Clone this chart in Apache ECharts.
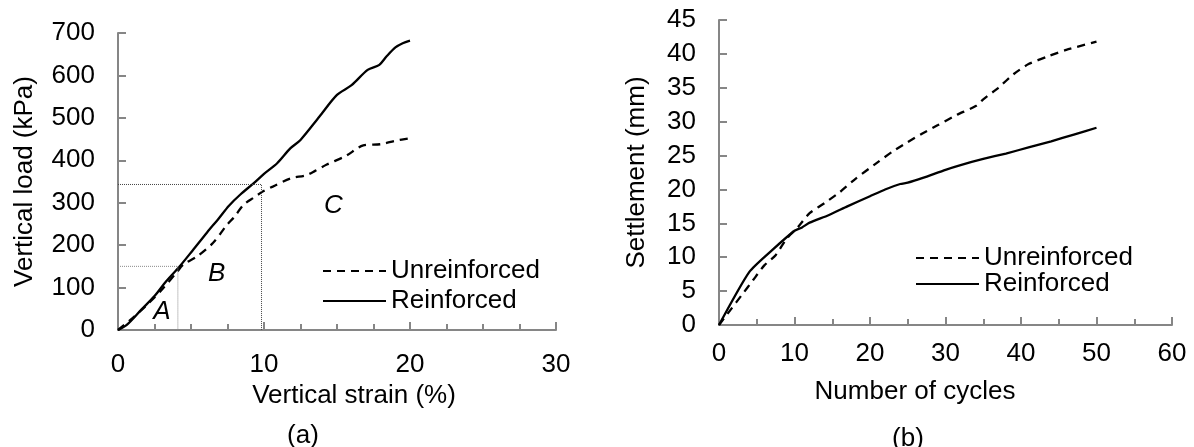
<!DOCTYPE html>
<html>
<head>
<meta charset="utf-8">
<script src="https://cdn.jsdelivr.net/npm/echarts@6/dist/echarts.min.js"></script>
<style>
  html, body { margin: 0; padding: 0; background: #fff; }
  #main { width: 1194px; height: 447px; }
</style>
</head>
<body>
<div id="main"></div>
<script>
// (a) load vs strain
var strainUnreinf = [[0,0],[1,28],[2,60],[3,95],[4,135],[4.5,155],[5.4,173],[6.5,205],[7.4,245],[8,268],[8.6,295],[9.3,312],[10,328],[10.6,338],[11.8,357],[12.9,365],[13.5,375],[14.3,390],[15.6,410],[16.8,435],[18,438],[19,446],[20,452]];
var strainReinf = [[0,0],[0.6,12],[1.6,48],[2.5,80],[3.3,115],[4.2,149],[5.1,187],[6.1,230],[6.9,263],[7.6,293],[8.4,320],[9.3,346],[10,368],[10.9,393],[11.8,428],[12.5,448],[13.8,503],[15,554],[16,577],[17.1,613],[17.9,625],[18.4,645],[19,666],[19.5,676],[20,682]];
// dotted guides and zone letters
var guideA = [[0,150],[4.1,150],[4.1,0]];
var guideB = [[0,343],[9.83,343],[9.83,0]];
var zoneLabels = [[3.0,42,'A'],[6.75,132,'B'],[14.75,293,'C']];

// (b) settlement vs cycles
var cycUnreinf = [[0,0],[1.5,2.2],[3,4.4],[4.5,6.6],[6,8.8],[7.5,10.3],[9,12.8],[10.5,14.5],[12,16.5],[14,18],[16,19.6],[18,21.5],[21,24],[23,25.6],[25,27],[27,28.3],[29,29.5],[31.5,31],[34,32.3],[35,33.3],[37,35],[39,37],[41,38.5],[43.5,39.6],[46,40.6],[50,41.8]];
var cycReinf = [[0,0],[4,7.8],[7,11],[10,13.9],[11,14.4],[12,15.1],[14.5,16.2],[17,17.5],[20,19],[22,20],[24,20.8],[25,21],[27,21.7],[30,22.9],[32,23.6],[35,24.5],[38,25.3],[41,26.2],[44,27.1],[47,28.1],[50,29.1]];

var FONT = "'Liberation Sans', Arial, sans-serif";
var FS = 26;
var axisGray = '#868686';

function axisCommon(extra) {
  var base = {
    type: 'value',
    nameLocation: 'middle',
    nameTextStyle: { fontFamily: FONT, fontSize: FS, color: '#000' },
    axisLine: { show: true, lineStyle: { color: axisGray, width: 2 } },
    axisTick: { show: true, inside: true, length: 8, lineStyle: { color: axisGray, width: 2 } },
    splitLine: { show: false }
  };
  return Object.assign(base, extra);
}

var dashed = { color: '#000', width: 2.3, type: [8, 6] };
var solid = { color: '#000', width: 2.3, type: 'solid' };
var legendCommon = {
  orient: 'vertical', itemWidth: 63, itemHeight: 14,
  itemStyle: { opacity: 0 },
  data: ['Unreinforced', 'Reinforced'],
  textStyle: { fontFamily: FONT, fontSize: FS, color: '#000' }
};

var chart = echarts.init(document.getElementById('main'));
chart.setOption({
  backgroundColor: '#fff',
  animation: false,
  title: [
    { text: '(a)', left: 298, top: 418, textAlign: 'center',
      textStyle: { fontFamily: FONT, fontSize: FS, fontWeight: 'normal', color: '#000' } },
    { text: '(b)', left: 903, top: 421, textAlign: 'center',
      textStyle: { fontFamily: FONT, fontSize: FS, fontWeight: 'normal', color: '#000' } }
  ],
  legend: [
    Object.assign({ left: 317, top: 253, itemGap: 4 }, legendCommon),
    Object.assign({ left: 910, top: 240, itemGap: 0 }, legendCommon)
  ],
  grid: [
    { left: 118, top: 33, width: 438, height: 297 },
    { left: 719, top: 20, width: 453, height: 305 }
  ],
  xAxis: [
    axisCommon({ gridIndex: 0, min: 0, max: 30, interval: 10, name: 'Vertical strain (%)', nameGap: 50,
      nameTextStyle: { fontFamily: FONT, fontSize: FS, color: '#000', padding: [0, 0, 0, 34] },
      minorTick: { show: true, splitNumber: 4, length: 6, lineStyle: { color: axisGray, width: 2 } },
      axisLabel: { fontFamily: FONT, fontSize: FS, color: '#000', margin: 22 } }),
    axisCommon({ gridIndex: 1, min: 0, max: 60, interval: 10, name: 'Number of cycles', nameGap: 54,
      nameTextStyle: { fontFamily: FONT, fontSize: FS, color: '#000', padding: [0, 61, 0, 0] },
      minorTick: { show: true, splitNumber: 2, length: 6, lineStyle: { color: axisGray, width: 2 } },
      axisLabel: { fontFamily: FONT, fontSize: FS, color: '#000', margin: 16 } })
  ],
  yAxis: [
    axisCommon({ gridIndex: 0, min: 0, max: 700, interval: 100, name: 'Vertical load (kPa)', nameGap: 80,
      axisLabel: { fontFamily: FONT, fontSize: FS, color: '#000', margin: 23 } }),
    axisCommon({ gridIndex: 1, min: 0, max: 45, interval: 5, name: 'Settlement (mm)', nameGap: 69,
      axisLabel: { fontFamily: FONT, fontSize: FS, color: '#000', margin: 23 } })
  ],
  series: [
    { name: 'Unreinforced', type: 'line', xAxisIndex: 0, yAxisIndex: 0, data: strainUnreinf,
      symbol: 'none', smooth: 0.3, lineStyle: dashed, itemStyle: { color: '#000' } },
    { name: 'Reinforced', type: 'line', xAxisIndex: 0, yAxisIndex: 0, data: strainReinf,
      symbol: 'none', smooth: 0.3, lineStyle: solid, itemStyle: { color: '#000' } },
    { name: 'guideA', type: 'line', xAxisIndex: 0, yAxisIndex: 0, data: guideA, symbol: 'none',
      lineStyle: { color: '#8a8a8a', width: 1, type: 'dotted' } },
    { name: 'guideB', type: 'line', xAxisIndex: 0, yAxisIndex: 0, data: guideB, symbol: 'none',
      lineStyle: { color: '#444', width: 1, type: 'dotted' } },
    { name: 'zones', type: 'scatter', xAxisIndex: 0, yAxisIndex: 0, data: zoneLabels, symbolSize: 0,
      itemStyle: { opacity: 1 },
      label: { show: true, position: 'inside', formatter: function (p) { return p.data[2]; },
        fontFamily: FONT, fontSize: FS, fontStyle: 'italic', color: '#000', opacity: 1 } },
    { name: 'Unreinforced', type: 'line', xAxisIndex: 1, yAxisIndex: 1, data: cycUnreinf,
      symbol: 'none', smooth: 0.2, lineStyle: dashed, itemStyle: { color: '#000' } },
    { name: 'Reinforced', type: 'line', xAxisIndex: 1, yAxisIndex: 1, data: cycReinf,
      symbol: 'none', smooth: 0.2, lineStyle: solid, itemStyle: { color: '#000' } }
  ]
});
</script>
</body>
</html>
